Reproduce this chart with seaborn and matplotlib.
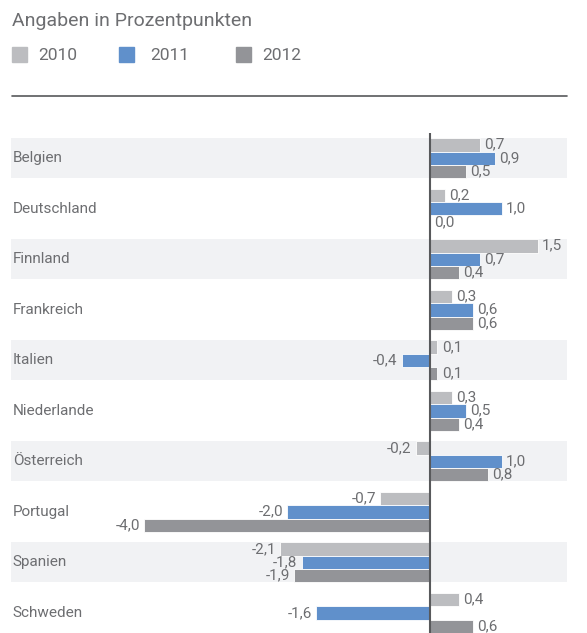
import matplotlib
matplotlib.use("Agg")
import matplotlib.pyplot as plt
import seaborn as sns
import pandas as pd
from matplotlib.patches import Rectangle

countries = ["Belgien", "Deutschland", "Finnland", "Frankreich", "Italien",
             "Niederlande", "Österreich", "Portugal", "Spanien", "Schweden"]
years = ["2010", "2011", "2012"]
v2010 = [0.7, 0.2, 1.5, 0.3, 0.1, 0.3, -0.2, -0.7, -2.1, 0.4]
v2011 = [0.9, 1.0, 0.7, 0.6, -0.4, 0.5, 1.0, -2.0, -1.8, -1.6]
v2012 = [0.5, 0.0, 0.4, 0.6, 0.1, 0.4, 0.8, -4.0, -1.9, 0.6]
title = "Angaben in Prozentpunkten"

colors = ["#bcbdc0", "#6090cb", "#939498"]
text_color = "#6d6e71"
band_color = "#f1f2f4"

sns.set_theme(style="white")
plt.rcParams["font.family"] = ["Roboto", "DejaVu Sans"]

rows = []
for y, vals in zip(years, [v2010, v2011, v2012]):
    for c, v in zip(countries, vals):
        rows.append({"country": c, "year": y, "value": v})
df = pd.DataFrame(rows)

W, H = 587, 633
fig = plt.figure(figsize=(W / 100, H / 100), dpi=100)
ax = fig.add_axes([11 / W, 0, (567 - 11) / W, 500 / H])

# alternating bands
for i in range(0, len(countries), 2):
    ax.axhspan(i - 0.4, i + 0.4, color=band_color, zorder=0, lw=0)

sns.barplot(data=df, y="country", x="value", hue="year", orient="h",
            palette=colors, order=countries, hue_order=years, width=0.8,
            ax=ax, legend=False, edgecolor="white", linewidth=0.6,
            saturation=1, zorder=2)

for cont in ax.containers:
    labels = [f"{v:.1f}".replace(".", ",") for v in cont.datavalues]
    ax.bar_label(cont, labels=labels, padding=3, fontsize=11,
                 color=text_color)

ax.axvline(0, color="#58595b", lw=1.5, zorder=3)

ax.set_xlim(-5.86, 1.91)
ax.set_ylim(9.4, -0.5)
ax.set_xlabel("")
ax.set_ylabel("")
ax.set_xticks([])
ax.set_yticks([])
for s in ax.spines.values():
    s.set_visible(False)
ax.patch.set_alpha(0)

# country labels
for i, c in enumerate(countries):
    ax.text(0.003, i, c, transform=ax.get_yaxis_transform(), ha="left",
            va="center", fontsize=11, color=text_color)

# title and legend
fig.text(12 / W, 1 - 21 / H, title, ha="left", va="center", fontsize=14,
         color=text_color)
legend_x = [12, 119, 236]
legend_tx = [38, 150, 262]
for lx, tx, col, yr in zip(legend_x, legend_tx, colors, years):
    fig.patches.append(Rectangle((lx / W, 1 - 62 / H), 15 / W, 15 / H,
                                 transform=fig.transFigure, color=col,
                                 figure=fig))
    fig.text(tx / W, 1 - 55 / H, yr, ha="left", va="center",
             fontsize=12.5, color=text_color)

fig.lines.append(plt.Line2D([12 / W, 567 / W], [1 - 96 / H, 1 - 96 / H],
                            transform=fig.transFigure, color="#58595b",
                            lw=1.2))

fig.savefig("out.png", dpi=100)
